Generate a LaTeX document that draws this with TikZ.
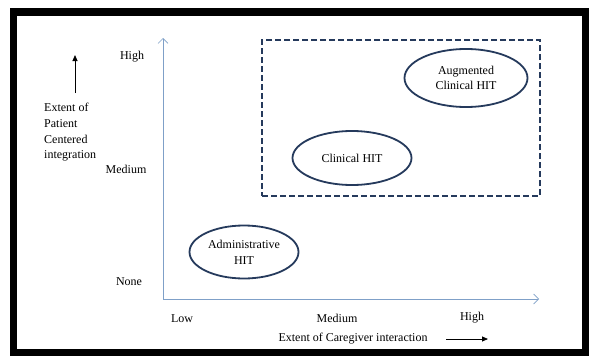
\documentclass[tikz,border=0pt]{standalone}
\usepackage{fontspec}
\setmainfont{Liberation Serif}
\usetikzlibrary{arrows.meta,shapes.geometric}
\definecolor{navy}{HTML}{253A5C}
\definecolor{axisblue}{HTML}{7FA0C8}
\begin{document}
\begin{tikzpicture}[x=1pt,y=-1pt,
  lbl/.style={inner sep=0pt,font=\fontsize{12}{15.7}\selectfont},
  hit/.style={draw=navy,line width=1.8pt,ellipse,inner sep=0pt,align=center,font=\fontsize{12}{15.7}\selectfont},
  axis/.style={draw=axisblue,line width=0.7pt,-{Straight Barb[length=5pt,width=10pt]}}]
\useasboundingbox (0,0) rectangle (589,356);
\fill[white] (0,0) rectangle (589,356);
\fill[black] (10,8) rectangle (589,356);
\fill[white] (17,16) rectangle (582,349);
% axes
\coordinate (o) at (163,299);
\coordinate (ytop) at (163,38);
\coordinate (xend) at (539,299);
\draw[axis] (o) -- (ytop);
\draw[axis] (o) -- (xend);
% dashed region
\node[draw=navy,line width=1.6pt,dash pattern=on 6pt off 3pt,minimum width=278pt,minimum height=156pt,inner sep=0pt] (zone) at (401,118) {};
% ellipses
\node[hit,minimum width=123pt,minimum height=58pt] (aug) at (466,78) {Augmented\\Clinical HIT};
\node[hit,minimum width=119pt,minimum height=54pt] (clin) at (352,158) {Clinical HIT};
\node[hit,minimum width=109pt,minimum height=53pt] (adm) at (244,252) {Administrative\\HIT};
% y labels
\node[lbl] (yh) at (132,57) {High};
\node[lbl] (ym) at (126,169) {Medium};
\node[lbl] (yn) at (129,282) {None};
\node[lbl,anchor=north west,align=left] (ytitle) at (44,103) {Extent of\\Patient\\Centered\\integration};
\coordinate (ya0) at (75,93);
\coordinate (ya1) at (75,55);
\draw[black,line width=0.8pt,-{Triangle[length=6pt,width=5pt]}] (ya0) -- (ya1);
% x labels
\node[lbl] (xl) at (182,319) {Low};
\node[lbl] (xm) at (337,318) {Medium};
\node[lbl] (xh) at (472,318) {High};
\node[lbl] (xtitle) at (353,339) {Extent of Caregiver interaction};
\coordinate (xa0) at (446,339);
\coordinate (xa1) at (488,339);
\draw[black,line width=0.8pt,-{Triangle[length=6pt,width=5pt]}] (xa0) -- (xa1);
\end{tikzpicture}
\end{document}
